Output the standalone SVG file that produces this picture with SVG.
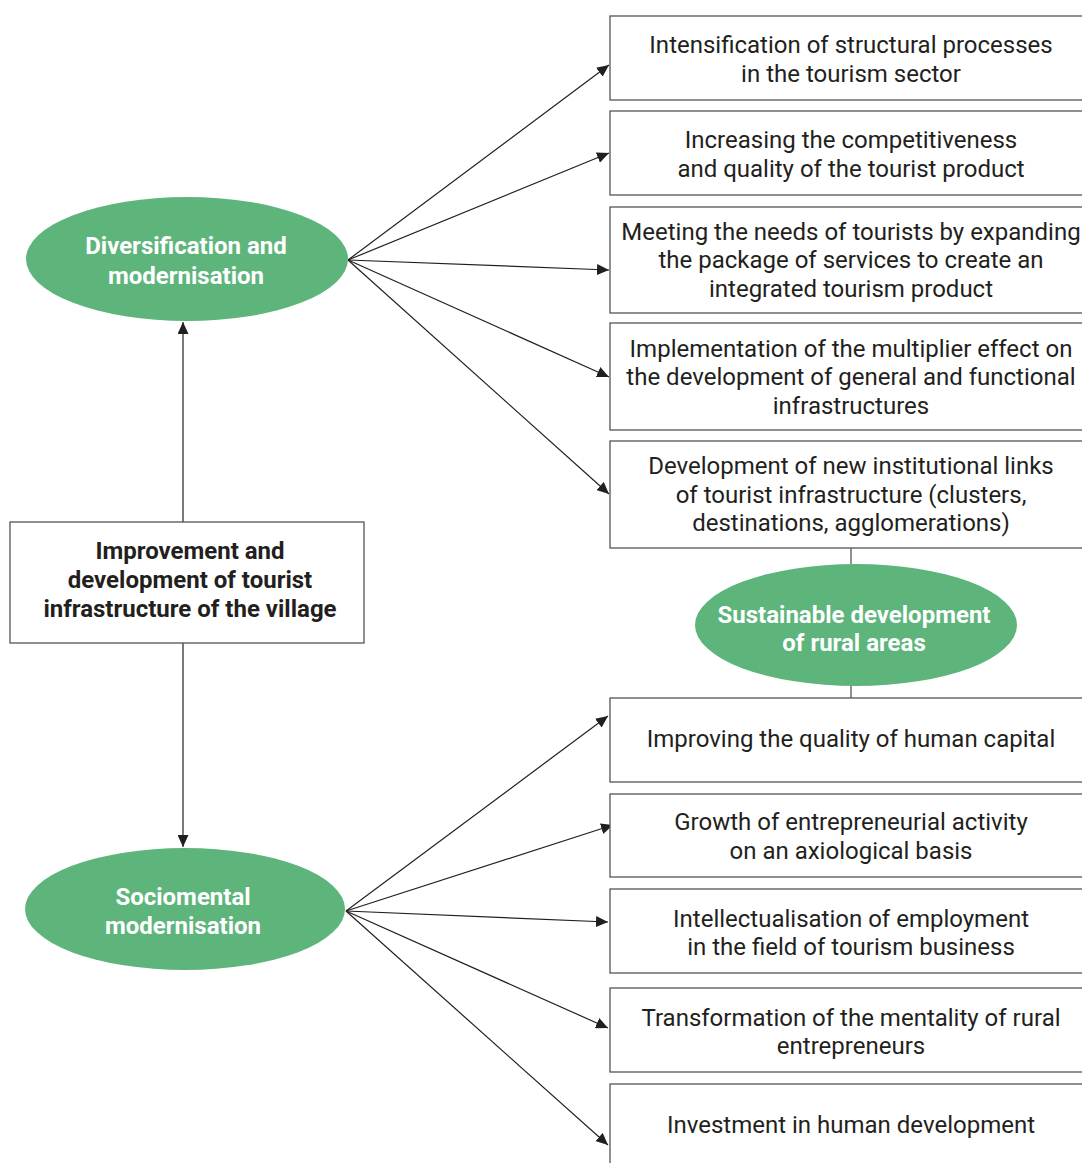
<svg xmlns="http://www.w3.org/2000/svg" width="1082" height="1163" viewBox="0 0 1082 1163">
<style>
.box{fill:#fff;stroke:#555;stroke-width:1.3}
.ell{fill:#5db57c}
.t{font-family:Roboto,"Liberation Sans",sans-serif;font-size:24px;fill:#231f20;text-anchor:middle}
.b{font-weight:bold}
.w{font-family:Roboto,"Liberation Sans",sans-serif;font-size:24px;font-weight:bold;fill:#fff;text-anchor:middle}
.c{stroke:#231f20;stroke-width:1.2;fill:none}
.p{stroke:#555;stroke-width:1.3;fill:none}
</style>
<defs>
<marker id="a" viewBox="0 0 12 11" refX="12" refY="5.5" markerWidth="12" markerHeight="11" markerUnits="userSpaceOnUse" orient="auto">
<path d="M0,0 L12,5.5 L0,11 z" fill="#231f20"/>
</marker>
</defs>
<g id="connectors">
<line class="c" x1="183" y1="522" x2="183" y2="322" marker-end="url(#a)"/>
<line class="c" x1="183" y1="643" x2="183" y2="847" marker-end="url(#a)"/>
<line class="c" x1="348" y1="260" x2="609" y2="65" marker-end="url(#a)"/>
<line class="c" x1="348" y1="260" x2="609" y2="153" marker-end="url(#a)"/>
<line class="c" x1="348" y1="260" x2="609" y2="270" marker-end="url(#a)"/>
<line class="c" x1="348" y1="260" x2="609" y2="377" marker-end="url(#a)"/>
<line class="c" x1="348" y1="260" x2="609" y2="494" marker-end="url(#a)"/>
<line class="c" x1="346" y1="911" x2="608" y2="716" marker-end="url(#a)"/>
<line class="c" x1="346" y1="911" x2="613" y2="825" marker-end="url(#a)"/>
<line class="c" x1="346" y1="911" x2="608" y2="922" marker-end="url(#a)"/>
<line class="c" x1="346" y1="911" x2="608" y2="1028" marker-end="url(#a)"/>
<line class="c" x1="346" y1="911" x2="608" y2="1145" marker-end="url(#a)"/>
<line class="p" x1="851" y1="548" x2="851" y2="564"/>
<line class="p" x1="851" y1="685" x2="851" y2="698"/>
</g>
<g id="n-diversification">
<ellipse class="ell" cx="187" cy="259" rx="161" ry="62"/>
<text class="w" x="186" y="254">Diversification and</text>
<text class="w" x="186" y="284">modernisation</text>
</g>
<g id="n-sustainable">
<ellipse class="ell" cx="856" cy="625" rx="161" ry="61"/>
<text class="w" x="854" y="623">Sustainable development</text>
<text class="w" x="854" y="651">of rural areas</text>
</g>
<g id="n-sociomental">
<ellipse class="ell" cx="185" cy="909" rx="160" ry="61"/>
<text class="w" x="183" y="905">Sociomental</text>
<text class="w" x="183" y="934">modernisation</text>
</g>
<g id="n-center">
<rect class="box" x="10" y="522" width="354" height="121"/>
<text class="t b" x="190" y="559">Improvement and</text>
<text class="t b" x="190" y="588">development of tourist</text>
<text class="t b" x="190" y="617">infrastructure of the village</text>
</g>
<g id="n-b1">
<rect class="box" x="610" y="16" width="480" height="84"/>
<text class="t" x="851" y="53">Intensification of structural processes</text>
<text class="t" x="851" y="82">in the tourism sector</text>
</g>
<g id="n-b2">
<rect class="box" x="610" y="111" width="480" height="84"/>
<text class="t" x="851" y="148">Increasing the competitiveness</text>
<text class="t" x="851" y="177">and quality of the tourist product</text>
</g>
<g id="n-b3">
<rect class="box" x="610" y="207" width="480" height="106"/>
<text class="t" x="851" y="240">Meeting the needs of tourists by expanding</text>
<text class="t" x="851" y="268">the package of services to create an</text>
<text class="t" x="851" y="297">integrated tourism product</text>
</g>
<g id="n-b4">
<rect class="box" x="610" y="323" width="480" height="107"/>
<text class="t" x="851" y="357">Implementation of the multiplier effect on</text>
<text class="t" x="851" y="385">the development of general and functional</text>
<text class="t" x="851" y="414">infrastructures</text>
</g>
<g id="n-b5">
<rect class="box" x="610" y="441" width="480" height="107"/>
<text class="t" x="851" y="474">Development of new institutional links</text>
<text class="t" x="851" y="503">of tourist infrastructure (clusters,</text>
<text class="t" x="851" y="531">destinations, agglomerations)</text>
</g>
<g id="n-b6">
<rect class="box" x="610" y="698" width="480" height="84"/>
<text class="t" x="851" y="747">Improving the quality of human capital</text>
</g>
<g id="n-b7">
<rect class="box" x="610" y="794" width="480" height="83"/>
<text class="t" x="851" y="830">Growth of entrepreneurial activity</text>
<text class="t" x="851" y="859">on an axiological basis</text>
</g>
<g id="n-b8">
<rect class="box" x="610" y="889" width="480" height="84"/>
<text class="t" x="851" y="927">Intellectualisation of employment</text>
<text class="t" x="851" y="955">in the field of tourism business</text>
</g>
<g id="n-b9">
<rect class="box" x="610" y="988" width="480" height="84"/>
<text class="t" x="851" y="1026">Transformation of the mentality of rural</text>
<text class="t" x="851" y="1054">entrepreneurs</text>
</g>
<g id="n-b10">
<rect class="box" x="610" y="1084" width="480" height="100"/>
<text class="t" x="851" y="1133">Investment in human development</text>
</g>
</svg>
